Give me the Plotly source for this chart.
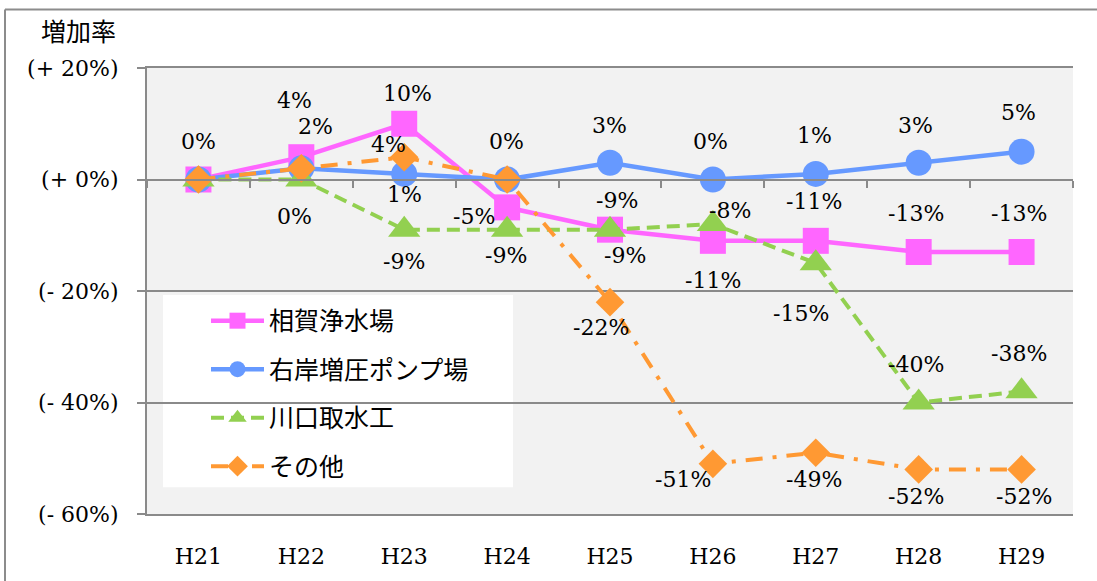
import plotly.graph_objects as go

# ---------------- data ----------------
years = ["H21", "H22", "H23", "H24", "H25", "H26", "H27", "H28", "H29"]
aiga = [0, 4, 10, -5, -9, -11, -11, -13, -13]          # 相賀浄水場
ugan = [0, 2, 1, 0, 3, 0, 1, 3, 5]                      # 右岸増圧ポンプ場
kawaguchi = [0, 0, -9, -9, -9, -8, -15, -40, -38]       # 川口取水工
sonota = [0, 2, 4, 0, -22, -51, -49, -52, -52]          # その他
series_names = ["相賀浄水場", "右岸増圧ポンプ場", "川口取水工", "その他"]
y_tickvals = [20, 0, -20, -40, -60]
y_ticktext = ["(+ 20%)", "(+ 0%)", "(- 20%)", "(- 40%)", "(- 60%)"]
y_title = "増加率"

# ---------------- styles ----------------
SERIF = "DejaVu Serif, Noto Sans CJK JP, serif"
CJK = "Noto Sans CJK JP, sans-serif"
GRID = "#8a8a8a"
styles = [
    dict(color="#FF66FF", dash="solid", symbol="square", size=26),
    dict(color="#6699FF", dash="solid", symbol="circle", size=26),
    dict(color="#92D050", dash="13px,7px", symbol="triangle-up", size=28),
    dict(color="#FF9933", dash="17px,10px,4px,10px", symbol="diamond", size=22),
]
# label offsets (dx, dy) in px relative to each point, None = label hidden
label_offsets = [
    [(0, -38), (-7, -57), (3, -30), (-33, 9), (7, -29), (0, 40), (-2, -39), (-3, -38), (-3, -38)],
    [None, (14, -42), (0, 21), (-1, -38), (-1, -37), (-2, -38), (-1, -38), (-3, -37), (-3, -39)],
    [None, (-7, 37), (0, 32), (-1, 26), (15, 26), (17, -14), (-15, 50), (-3, -38), (-3, -38)],
    [None, None, (-16, -13), None, (-9, 25), (-30, 16), (-2, 27), (-3, 27), (2, 27)],
]

all_series = [aiga, ugan, kawaguchi, sonota]
y_min, y_max = min(y_tickvals), max(y_tickvals)

fig = go.Figure()
annotations = []
for i, (vals, name, st) in enumerate(zip(all_series, series_names, styles)):
    fig.add_trace(go.Scatter(
        x=years, y=vals, name=name, mode="lines+markers",
        line=dict(color=st["color"], width=4.5 if i < 2 else 4, dash=st["dash"]),
        marker=dict(symbol=st["symbol"], size=st["size"], color=st["color"],
                    line=dict(width=0)),
        legendgroup=f"g{i}",
        hoverinfo="skip",
    ))
    for x, v, off in zip(years, vals, label_offsets[i]):
        if off is None:
            continue
        annotations.append(dict(
            x=x, y=v, xref="x", yref="y", text=f"{v:d}%", showarrow=False,
            xshift=off[0], yshift=-off[1], font=dict(family=SERIF, size=22, color="#000"),
            xanchor="center", yanchor="middle",
        ))

# helper axis drawing the zero line with category boundary ticks
n = len(years)
fig.add_trace(go.Scatter(x=[i for i in range(n)], y=[None] * n, xaxis="x2",
                         showlegend=False, hoverinfo="skip"))

W, H = 1097, 581
ml, mr, mt, mb = 147, 24, 68, 63
pw, ph = W - ml - mr, H - mt - mb


def px_x(px):
    return (px - ml) / pw


def px_y(py):
    return (H - mb - py) / ph


shapes = [
    # outer chart border (left and top)
    dict(type="line", xref="paper", yref="paper",
         x0=px_x(5), x1=px_x(5), y0=px_y(9), y1=-0.5,
         line=dict(color="#8c8c8c", width=2)),
    dict(type="line", xref="paper", yref="paper",
         x0=px_x(5), x1=1.2, y0=px_y(9), y1=px_y(9),
         line=dict(color="#8c8c8c", width=2)),
    # white legend panel
    dict(type="rect", xref="paper", yref="paper", layer="between",
         x0=px_x(163), x1=px_x(513), y0=px_y(491), y1=px_y(297),
         fillcolor="white", line=dict(width=0)),
]

fig.update_layout(
    width=W, height=H,
    margin=dict(l=ml, r=mr, t=mt, b=mb),
    paper_bgcolor="white", plot_bgcolor="#F2F2F2",
    font=dict(family=SERIF, size=22, color="#000"),
    title=dict(text=y_title, x=41 / W, xanchor="left", xref="container",
               y=1 - 32 / H, yanchor="middle", yref="container",
               font=dict(family=CJK, size=25, color="#000")),
    xaxis=dict(type="category", categoryorder="array", categoryarray=years,
               range=[-0.5, n - 0.5], showgrid=False, zeroline=False,
               showline=True, mirror=True, linecolor=GRID, linewidth=2,
               ticks="", ticklabelstandoff=22,
               tickfont=dict(family=SERIF, size=22)),
    xaxis2=dict(overlaying="x", anchor="free",
                position=(0 - y_min) / (y_max - y_min),
                range=[-0.5, n - 0.5], tickvals=[i - 0.5 for i in range(n + 1)],
                showticklabels=False, ticks="outside", ticklen=7, tickwidth=2,
                tickcolor=GRID, showline=True, linecolor=GRID, linewidth=2,
                showgrid=False, zeroline=False),
    yaxis=dict(range=[y_min, y_max], tickvals=y_tickvals, ticktext=y_ticktext,
               showgrid=True, gridcolor=GRID, gridwidth=2, zeroline=False,
               showline=True, linecolor=GRID, linewidth=2,
               ticks="outside", ticklen=8, tickwidth=2, tickcolor=GRID,
               ticklabelstandoff=14, tickfont=dict(family=SERIF, size=22)),
    legend=dict(x=px_x(206), y=px_y(300), xanchor="left", yanchor="top",
                bgcolor="rgba(0,0,0,0)", borderwidth=0, font=dict(family=CJK, size=25),
                tracegroupgap=13, itemwidth=53, traceorder="grouped"),
    showlegend=True,
    annotations=annotations,
    shapes=shapes,
)

fig.write_html("out.html")
